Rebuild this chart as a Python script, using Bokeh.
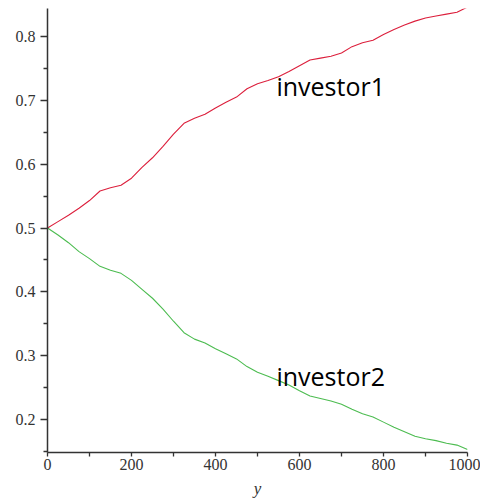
from bokeh.plotting import figure
from bokeh.models import ColumnDataSource, Range1d, FixedTicker
from bokeh.core.properties import value
from bokeh.embed import file_html
from bokeh.resources import INLINE

steps = [0, 25, 50, 75, 100, 125, 150, 175, 200, 225, 250, 275, 300, 325, 350, 375,
         400, 425, 450, 475, 500, 525, 550, 575, 600, 625, 650, 675, 700, 725, 750,
         775, 800, 825, 850, 875, 900, 925, 950, 975, 1000]

investor1 = [0.500, 0.510, 0.520, 0.531, 0.543, 0.558, 0.563, 0.567, 0.578, 0.595,
             0.610, 0.628, 0.647, 0.664, 0.672, 0.678, 0.688, 0.697, 0.705, 0.718,
             0.726, 0.731, 0.737, 0.745, 0.754, 0.763, 0.766, 0.769, 0.774, 0.784,
             0.790, 0.794, 0.803, 0.811, 0.818, 0.824, 0.829, 0.832, 0.835, 0.838, 0.846]

investor2 = [0.500, 0.489, 0.477, 0.463, 0.452, 0.440, 0.434, 0.429, 0.418, 0.404,
             0.390, 0.373, 0.354, 0.336, 0.326, 0.320, 0.311, 0.303, 0.295, 0.283,
             0.274, 0.268, 0.261, 0.254, 0.245, 0.237, 0.233, 0.229, 0.224, 0.216,
             0.209, 0.204, 0.196, 0.188, 0.181, 0.174, 0.170, 0.167, 0.163, 0.160, 0.153]

label_names = ["investor1", "investor2"]
label_x = [545, 545]
label_y = [0.723, 0.269]

x_major = [0, 200, 400, 600, 800, 1000]
x_minor = [100, 300, 500, 700, 900]
y_major = [0.2, 0.3, 0.4, 0.5, 0.6, 0.7, 0.8]
y_minor = [0.15, 0.25, 0.35, 0.45, 0.55, 0.65, 0.75]

SERIF = "Times New Roman"

p = figure(width=480, height=500, output_backend="svg", toolbar_location=None,
           x_range=Range1d(0, 1000), y_range=Range1d(0.14844, 0.84375),
           min_border_left=47, min_border_right=13, min_border_top=8, min_border_bottom=48)
p.outline_line_color = None
p.grid.visible = False
p.background_fill_color = "white"

src = ColumnDataSource(dict(x=steps, a=investor1, b=investor2))
p.line("x", "a", source=src, line_color="#dc1f3c", line_width=1.1)
p.line("x", "b", source=src, line_color="#4cbc50", line_width=1.1)

lsrc = ColumnDataSource(dict(x=label_x, y=label_y, t=label_names))
p.text("x", "y", text="t", source=lsrc, text_font=value("Open Sans"),
       text_font_size="25px", text_color="black", text_baseline="alphabetic",
       text_align="left")

for ax in (p.xaxis[0], p.yaxis[0]):
    ax.axis_line_color = "#333333"
    ax.axis_line_width = 1.5
    ax.major_tick_line_color = "#333333"
    ax.minor_tick_line_color = "#333333"
    ax.major_tick_line_width = 1.3
    ax.minor_tick_line_width = 1.3
    ax.major_tick_in = 0
    ax.minor_tick_in = 0
    ax.major_label_text_font = SERIF
    ax.major_label_text_font_size = "16px"
    ax.major_label_text_color = "#333333"

p.xaxis.ticker = FixedTicker(ticks=x_major, minor_ticks=x_minor)
p.yaxis.ticker = FixedTicker(ticks=y_major, minor_ticks=y_minor)
p.xaxis.major_tick_out = 4
p.xaxis.minor_tick_out = 4
p.yaxis.major_tick_out = 7
p.yaxis.minor_tick_out = 4
p.xaxis.major_label_standoff = 2
p.yaxis.major_label_standoff = 5
p.xaxis.axis_label = "y"
p.xaxis.axis_label_text_font = SERIF
p.xaxis.axis_label_text_font_style = "italic"
p.xaxis.axis_label_text_font_size = "17px"
p.xaxis.axis_label_text_color = "#333333"
p.xaxis.axis_label_standoff = 6

open("out.html", "w").write(file_html(p, INLINE))
